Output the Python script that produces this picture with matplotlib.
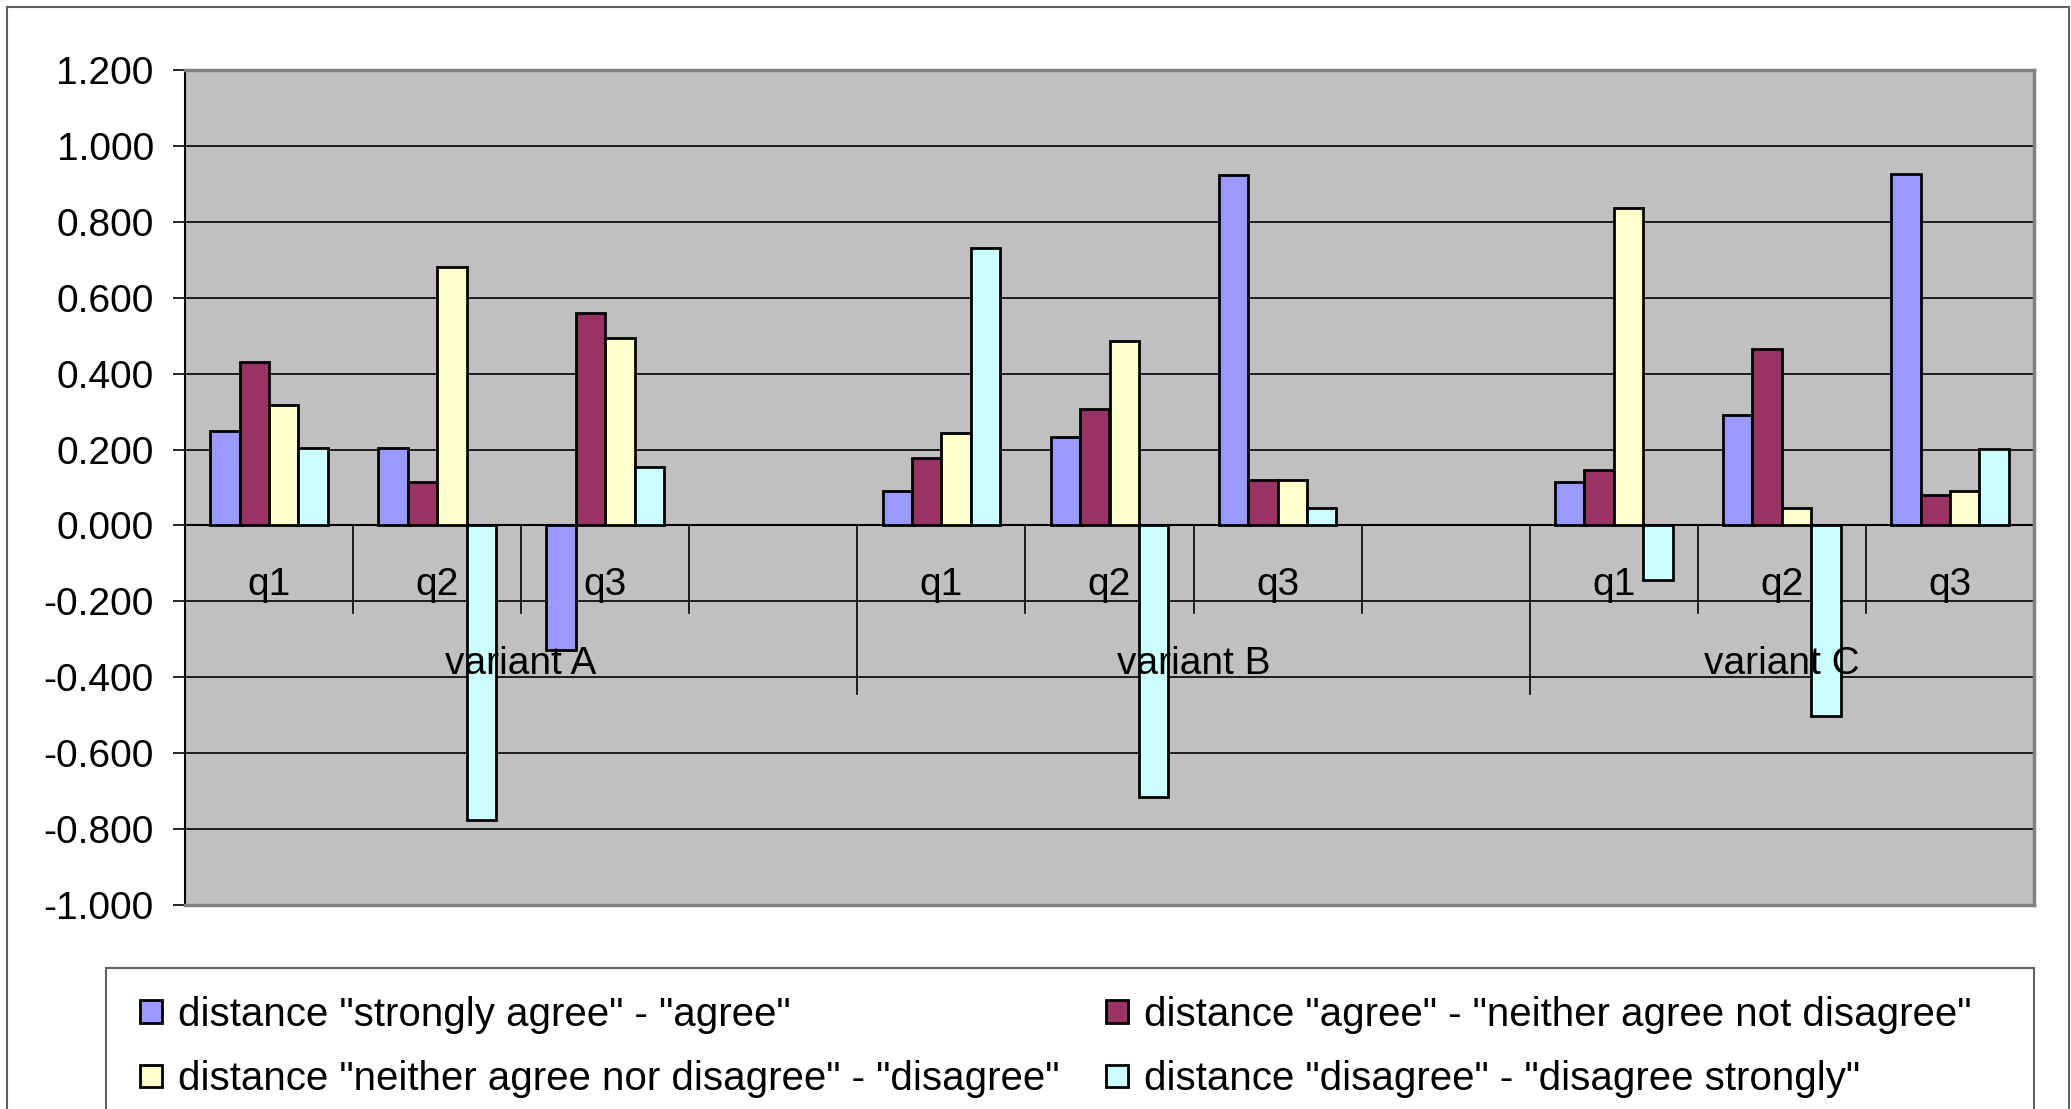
import numpy as np
import matplotlib
matplotlib.use('Agg')
import matplotlib.pyplot as plt
from matplotlib.patches import Rectangle
from matplotlib.ticker import FuncFormatter

plt.rcParams['font.family'] = ['Liberation Sans', 'DejaVu Sans']

# 11 category slots: the 4th slot of variant A and of variant B is an empty column
questions = ['q1', 'q2', 'q3', '', 'q1', 'q2', 'q3', '', 'q1', 'q2', 'q3']
variants = ['variant A', 'variant B', 'variant C']
variant_slots = [(0, 3), (4, 7), (8, 10)]

series_names = [
    'distance "strongly agree" - "agree"',
    'distance "agree" - "neither agree not disagree"',
    'distance "neither agree nor disagree" - "disagree"',
    'distance "disagree" - "disagree strongly"',
]
nan = np.nan
strongly_agree = [0.250, 0.204, -0.328, nan, 0.090, 0.233, 0.923, nan, 0.114, 0.291, 0.925]
agree_neither = [0.430, 0.114, 0.560, nan, 0.177, 0.307, 0.120, nan, 0.146, 0.464, 0.080]
neither_disagree = [0.318, 0.680, 0.495, nan, 0.243, 0.487, 0.120, nan, 0.836, 0.047, 0.090]
disagree_strongly = [0.204, -0.776, 0.153, nan, 0.730, -0.716, 0.047, nan, -0.145, -0.502, 0.202]
series_values = [strongly_agree, agree_neither, neither_disagree, disagree_strongly]
colors = ['#9999FF', '#993366', '#FFFFCC', '#CCFFFF']

W, H = 2071, 1109
fig = plt.figure(figsize=(W / 100, H / 100), dpi=100)

# chart-area border
fig.patches.append(Rectangle((7 / W, -0.05), (2069 - 7) / W, 1.05 - 7 / H,
                             transform=fig.transFigure, fill=False,
                             edgecolor='#606060', linewidth=1.5))

ax = fig.add_axes([185 / W, 1 - 905 / H, (2034 - 185) / W, (905 - 70) / H])
ax.set_facecolor('#C0C0C0')

x = np.arange(len(questions))
bw = 0.175
handles = []
for k, (vals, c) in enumerate(zip(series_values, colors)):
    b = ax.bar(x + (k - 1.5) * bw, vals, width=bw, color=c,
               edgecolor='black', linewidth=2, zorder=3)
    handles.append(b)

ax.set_xlim(-0.5, len(questions) - 0.5)
ax.set_ylim(-1.0, 1.2)
ax.set_yticks(np.round(np.arange(-1.0, 1.21, 0.2), 1))
ax.yaxis.set_major_formatter(FuncFormatter(lambda v, _: f'{round(v, 3) + 0.0:.3f}'))
ax.tick_params(axis='y', labelsize=28, length=8.5, width=1.2, pad=14)
ax.set_xticks([])
ax.yaxis.grid(True, color='black', linewidth=1.2, zorder=1)
ax.set_axisbelow(True)
ax.axhline(0, color='black', linewidth=1.5, zorder=2)

for side in ('top', 'right', 'bottom'):
    ax.spines[side].set_color('#808080')
    ax.spines[side].set_linewidth(2.5)
ax.spines['left'].set_color('black')
ax.spines['left'].set_linewidth(1.5)

# category tick lines under the zero line
long_edges = [3.5, 7.5, 10.5]
for e in np.arange(0.5, len(questions), 1.0):
    depth = -0.445 if e in long_edges else -0.23
    ax.plot([e, e], [0, depth], color='black', linewidth=1.2, zorder=2)

for i, q in enumerate(questions):
    if q:
        ax.text(i, -0.158, q, ha='center', va='center', fontsize=28, zorder=4)
for name, (a, b) in zip(variants, variant_slots):
    ax.text((a + b) / 2, -0.365, name, ha='center', va='center', fontsize=28, zorder=4)

# legend box (runs off the bottom edge, as in the source)
fig.patches.append(Rectangle((106 / W, -0.05), (2034 - 106) / W, 0.05 + 1 - 968 / H,
                             transform=fig.transFigure, fill=False,
                             edgecolor='#606060', linewidth=1.5))
order = [0, 2, 1, 3]  # row-wise filling
fig.legend([handles[i] for i in order], [series_names[i] for i in order],
           ncol=2, loc='upper left', bbox_to_anchor=(124 / W, 1 - 980 / H),
           frameon=False, fontsize=29, handlelength=0.55, handleheight=0.5,
           handletextpad=0.4, columnspacing=1.15, labelspacing=0.65,
           borderaxespad=0)

fig.savefig('out.png', dpi=100)
